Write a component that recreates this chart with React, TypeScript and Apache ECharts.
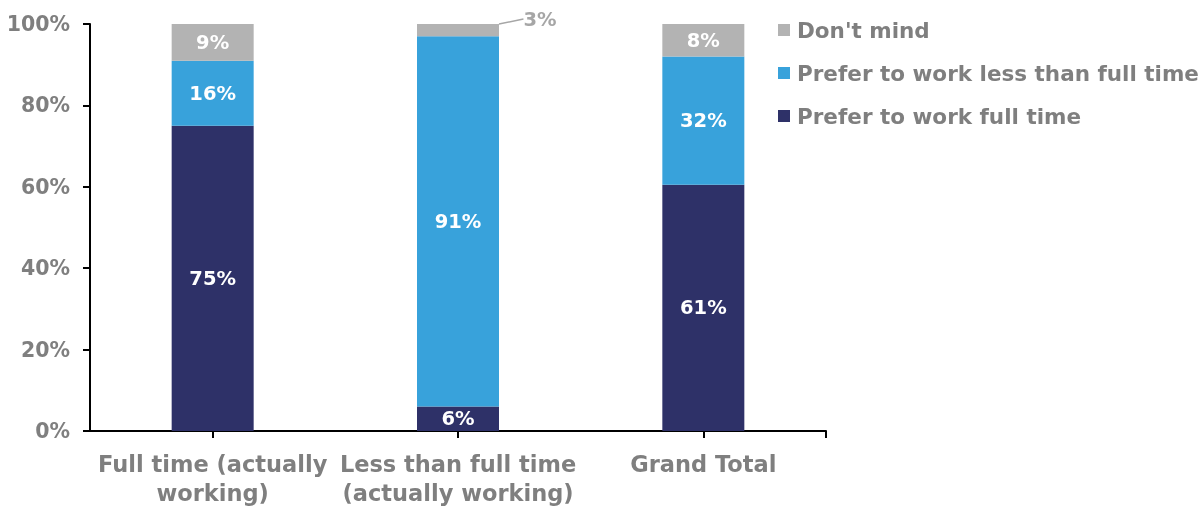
import React, { useEffect, useRef } from "react";
import * as echarts from "echarts";

const categories = ["Full time (actually\nworking)", "Less than full time\n(actually working)", "Grand Total"];
const preferFullTime = [75, 6, 60.5];
const preferLess = [16, 91, 31.5];
const dontMind = [9, 3, 8];
const yTicks = [0, 20, 40, 60, 80, 100];

const FONT = "'DejaVu Sans', sans-serif";
const GREY = "#7F7F7F";

export default function App() {
  const ref = useRef<HTMLDivElement>(null);
  useEffect(() => {
    if (!ref.current) return;
    const chart = echarts.init(ref.current, null, { renderer: "svg" });
    const insideLabel = {
      show: true,
      position: "inside",
      color: "#FFFFFF",
      fontFamily: FONT,
      fontWeight: "bold",
      fontSize: 19.5,
      formatter: (p: any) => Math.round(p.value) + "%",
    };
    chart.setOption({
      animation: false,
      textStyle: { fontFamily: FONT },
      grid: { left: 90, right: 376, top: 24, bottom: 74, containLabel: false },
      legend: {
        orient: "vertical",
        left: 778,
        top: 19,
        padding: 0,
        itemWidth: 12,
        itemHeight: 12,
        itemGap: 21,
        icon: "rect",
        data: ["Don't mind", "Prefer to work less than full time", "Prefer to work full time"],
        textStyle: { color: GREY, fontFamily: FONT, fontWeight: "bold", fontSize: 21.5, padding: [0, 0, 0, 2] },
      },
      xAxis: {
        type: "category",
        data: categories,
        axisLine: { lineStyle: { color: "#000", width: 2 } },
        axisTick: { show: true, alignWithLabel: true, length: 7, lineStyle: { color: "#000", width: 2 } },
        axisLabel: {
          color: GREY,
          fontFamily: FONT,
          fontWeight: "bold",
          fontSize: 22.5,
          lineHeight: 29,
          margin: 18,
          interval: 0,
        },
      },
      yAxis: {
        type: "value",
        min: 0,
        max: 100,
        interval: 20,
        splitLine: { show: false },
        axisLine: { show: true, lineStyle: { color: "#000", width: 2 } },
        axisTick: { show: true, inside: false, length: 7, lineStyle: { color: "#000", width: 2 } },
        axisLabel: {
          color: GREY,
          fontFamily: FONT,
          fontWeight: "bold",
          fontSize: 20.5,
          margin: 20,
          formatter: (v: number) => (yTicks.includes(v) ? v + "%" : ""),
        },
      },
      series: [
        {
          name: "Prefer to work full time",
          type: "bar",
          stack: "total",
          barWidth: 82,
          data: preferFullTime,
          itemStyle: { color: "#2E3168" },
          label: insideLabel,
        },
        {
          name: "Prefer to work less than full time",
          type: "bar",
          stack: "total",
          barWidth: 82,
          data: preferLess,
          itemStyle: { color: "#38A2DB" },
          label: insideLabel,
        },
        {
          name: "Don't mind",
          type: "bar",
          stack: "total",
          barWidth: 82,
          data: dontMind.map((v, i) =>
            i === 1
              ? {
                  value: v,
                  label: {
                    show: true,
                    position: "top",
                    color: "#A6A6A6",
                    fontFamily: FONT,
                    fontWeight: "bold",
                    fontSize: 19.5,
                    formatter: (p: any) => Math.round(p.value) + "%",
                  },
                  labelLine: { show: true, lineStyle: { color: "#A6A6A6", width: 1.5 } },
                }
              : { value: v }
          ),
          itemStyle: { color: "#B3B3B3" },
          label: insideLabel,
          labelLayout: (p: any) => (p.dataIndex === 1 ? { dx: 82, dy: 10 } : {}),
        },
      ],
    });
    // closing tick at the right end of the category axis
    const end = chart.convertToPixel({ gridIndex: 0 }, [categories.length - 1, 0]) as number[];
    const halfBand = (chart.convertToPixel({ gridIndex: 0 }, [1, 0]) as number[])[0] -
      (chart.convertToPixel({ gridIndex: 0 }, [0, 0]) as number[])[0];
    const xEnd = end[0] + halfBand / 2;
    chart.setOption({
      graphic: [
        {
          type: "line",
          shape: { x1: xEnd, y1: end[1], x2: xEnd, y2: end[1] + 7 },
          style: { stroke: "#000", lineWidth: 2 },
        },
      ],
    });
    return () => chart.dispose();
  }, []);
  return <div ref={ref} style={{ position: "fixed", left: 0, top: 0, width: 1202, height: 507 }} />;
}
